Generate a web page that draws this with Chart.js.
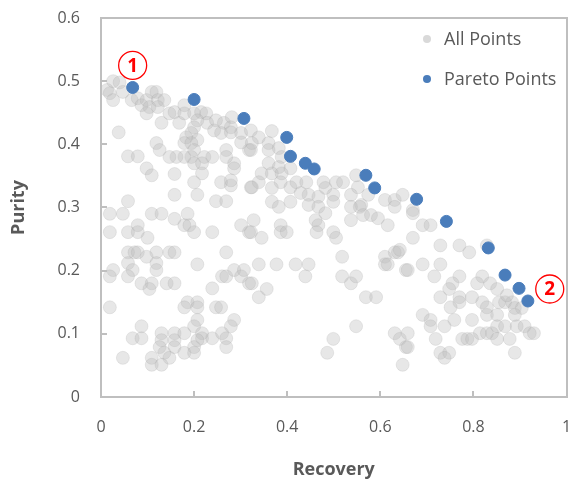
<!DOCTYPE html>
<html>
<head>
<meta charset="utf-8">
<script src="https://cdn.jsdelivr.net/npm/chart.js@4/dist/chart.umd.min.js"></script>
<style>
  html, body { margin: 0; padding: 0; background: #fff; }
</style>
</head>
<body>
<canvas id="chartPareto" width="574" height="482"></canvas>
<script>
// ---- Data ----
const paretoRecovery = [0.068, 0.2, 0.307, 0.399, 0.407, 0.439, 0.458, 0.569, 0.588, 0.678, 0.742, 0.832, 0.868, 0.898, 0.917];
const paretoPurity   = [0.49, 0.471, 0.441, 0.411, 0.381, 0.37, 0.361, 0.351, 0.331, 0.313, 0.278, 0.236, 0.193, 0.172, 0.152];

// [recovery, purity]
const allPoints = [
  [0.026,0.50],[0.013,0.486],[0.019,0.481],[0.04,0.498],[0.047,0.483],[0.026,0.47],[0.066,0.47],[0.079,0.473],
  [0.087,0.462],[0.098,0.47],[0.109,0.483],[0.119,0.483],[0.104,0.459],[0.122,0.47],[0.136,0.47],[0.098,0.449],
  [0.122,0.459],[0.13,0.434],[0.147,0.449],[0.158,0.451],[0.168,0.434],[0.179,0.462],[0.179,0.449],[0.2,0.449],
  [0.215,0.451],[0.226,0.449],[0.207,0.438],[0.228,0.434],[0.247,0.438],[0.243,0.422],[0.264,0.434],[0.258,0.418],
  [0.281,0.443],[0.279,0.427],[0.279,0.419],[0.301,0.418],[0.318,0.391],[0.301,0.403],[0.2,0.427],[0.194,0.418],
  [0.207,0.407],[0.183,0.411],[0.179,0.402],[0.194,0.402],[0.2,0.391],[0.194,0.38],[0.179,0.38],[0.162,0.38],
  [0.147,0.38],[0.222,0.38],[0.239,0.38],[0.2,0.37],[0.217,0.37],[0.269,0.391],[0.286,0.37],[0.286,0.362],
  [0.269,0.38],[0.119,0.402],[0.126,0.391],[0.038,0.419],[0.058,0.381],[0.079,0.381],[0.098,0.362],[0.109,0.351],
  [0.158,0.353],[0.217,0.354],[0.2,0.34],[0.258,0.34],[0.279,0.335],[0.279,0.343],[0.322,0.332],[0.158,0.32],
  [0.207,0.32],[0.058,0.31],[0.247,0.31],[0.269,0.31],
  [0.322,0.422],[0.339,0.411],[0.367,0.421],[0.324,0.402],[0.322,0.391],[0.36,0.402],[0.36,0.391],[0.382,0.394],
  [0.388,0.38],[0.36,0.37],[0.382,0.364],[0.407,0.362],[0.345,0.354],[0.367,0.354],[0.388,0.354],[0.386,0.34],
  [0.339,0.34],[0.324,0.332],[0.367,0.331],[0.407,0.332],[0.42,0.34],[0.441,0.34],[0.478,0.34],[0.505,0.34],
  [0.52,0.34],[0.482,0.331],[0.429,0.323],[0.446,0.32],[0.467,0.317],[0.499,0.32],[0.548,0.351],[0.552,0.332],
  [0.537,0.32],[0.574,0.32],[0.61,0.312],[0.631,0.312],[0.648,0.32],[0.367,0.309],[0.382,0.301],[0.407,0.309],
  [0.446,0.304],[0.467,0.301],[0.499,0.309],[0.559,0.304],[0.67,0.296],
  [0.019,0.29],[0.047,0.29],[0.109,0.29],[0.13,0.29],[0.158,0.282],[0.186,0.29],[0.179,0.272],[0.19,0.272],
  [0.079,0.272],[0.019,0.261],[0.058,0.261],[0.079,0.261],[0.1,0.252],[0.2,0.261],[0.239,0.261],[0.301,0.272],
  [0.318,0.261],[0.058,0.229],[0.072,0.229],[0.079,0.229],[0.119,0.229],[0.147,0.229],[0.158,0.229],[0.269,0.229],
  [0.098,0.222],[0.058,0.212],[0.119,0.212],[0.119,0.201],[0.068,0.201],[0.026,0.201],[0.019,0.191],[0.058,0.191],
  [0.207,0.21],[0.087,0.18],[0.109,0.18],[0.104,0.171],[0.141,0.18],[0.158,0.18],[0.239,0.172],[0.26,0.191],
  [0.269,0.191],[0.286,0.201],[0.301,0.191],[0.307,0.201],[0.318,0.18],[0.019,0.142],[0.186,0.15],[0.207,0.15],
  [0.179,0.142],[0.207,0.142],[0.247,0.142],[0.258,0.142],[0.207,0.122],[0.2,0.112],[0.286,0.122],[0.279,0.112],
  [0.087,0.112],[0.068,0.093],[0.087,0.093],[0.13,0.101],[0.13,0.09],[0.158,0.101],[0.158,0.09],[0.179,0.101],
  [0.217,0.101],[0.217,0.093],[0.239,0.093],[0.26,0.101],[0.269,0.093],[0.269,0.079],[0.126,0.079],[0.158,0.079],
  [0.2,0.079],[0.136,0.07],[0.179,0.07],[0.2,0.07],[0.147,0.062],[0.047,0.062],[0.109,0.062],[0.109,0.051],
  [0.13,0.051],[0.207,0.09],
  [0.461,0.28],[0.467,0.272],[0.463,0.261],[0.482,0.291],[0.537,0.28],[0.537,0.301],[0.556,0.301],[0.563,0.288],
  [0.58,0.288],[0.595,0.283],[0.616,0.272],[0.631,0.301],[0.328,0.28],[0.322,0.261],[0.345,0.252],[0.386,0.272],
  [0.386,0.261],[0.399,0.261],[0.499,0.261],[0.505,0.252],[0.339,0.21],[0.377,0.21],[0.418,0.21],[0.446,0.21],
  [0.439,0.191],[0.324,0.18],[0.356,0.171],[0.339,0.158],[0.518,0.222],[0.518,0.191],[0.537,0.18],[0.548,0.191],
  [0.569,0.158],[0.591,0.158],[0.61,0.222],[0.61,0.21],[0.616,0.21],[0.631,0.229],[0.638,0.229],[0.655,0.201],
  [0.548,0.112],[0.499,0.092],[0.486,0.07],[0.631,0.101],[0.642,0.092],[0.655,0.079],[0.648,0.051],
  [0.67,0.291],[0.691,0.272],[0.708,0.272],[0.642,0.233],[0.67,0.252],[0.729,0.24],[0.77,0.24],[0.791,0.229],
  [0.829,0.24],[0.659,0.201],[0.691,0.21],[0.729,0.21],[0.716,0.191],[0.77,0.191],[0.755,0.18],[0.748,0.171],
  [0.819,0.191],[0.808,0.18],[0.836,0.18],[0.851,0.171],[0.729,0.158],[0.77,0.158],[0.77,0.15],[0.797,0.158],
  [0.819,0.15],[0.751,0.142],[0.829,0.142],[0.855,0.15],[0.868,0.15],[0.883,0.15],[0.872,0.161],[0.889,0.141],
  [0.904,0.141],[0.829,0.13],[0.851,0.13],[0.889,0.13],[0.691,0.13],[0.708,0.122],[0.708,0.112],[0.738,0.112],
  [0.759,0.122],[0.797,0.122],[0.851,0.112],[0.868,0.112],[0.893,0.112],[0.91,0.112],[0.814,0.101],[0.829,0.101],
  [0.84,0.101],[0.921,0.101],[0.93,0.101],[0.659,0.101],[0.776,0.092],[0.787,0.092],[0.797,0.092],[0.851,0.092],
  [0.878,0.092],[0.719,0.092],[0.659,0.079],[0.729,0.07],[0.748,0.07],[0.738,0.062],[0.889,0.07]
];

const seriesLabels = ['All Points', 'Pareto Points'];
// numbered callouts: [recovery, purity, text]
const callouts = [[0.068, 0.525, '1'], [0.964, 0.171, '2']];

const TEXT_GREY  = '#595959';
const FRAME_GREY = '#bfbfbf';
const BLUE       = '#4a7dbb';

// ---- Overlay: plot box, inward ticks, legend, numbered callouts ----
const overlay = {
  id: 'overlay',
  afterDraw(chart) {
    const ctx = chart.ctx;
    const a = chart.chartArea;
    const x = chart.scales.x, y = chart.scales.y;
    const L = Math.round(a.left), R = Math.round(a.right);
    const T = Math.round(a.top), B = Math.round(a.bottom);
    ctx.save();

    // plot-area box with Excel-style inward tick marks
    ctx.fillStyle = FRAME_GREY;
    ctx.fillRect(L - 1, T - 1, R - L + 2, 2);
    ctx.fillRect(L - 1, B - 1, R - L + 2, 2);
    ctx.fillRect(L - 1, T - 1, 2, B - T + 2);
    ctx.fillRect(R - 1, T - 1, 2, B - T + 2);
    for (let i = 1; i < 5; i++) {
      const px = Math.round(x.getPixelForValue(i * 0.2));
      ctx.fillRect(px - 1, B - 6, 2, 6);
    }
    for (let i = 1; i < 6; i++) {
      const py = Math.round(y.getPixelForValue(i * 0.1));
      ctx.fillRect(L, py - 1, 6, 2);
    }

    // legend
    const colors = ['#d9d9d9', BLUE];
    ctx.font = '18px "Open Sans", sans-serif';
    ctx.textBaseline = 'middle';
    ctx.textAlign = 'left';
    seriesLabels.forEach((label, i) => {
      const yy = T + 21 + i * 40;
      ctx.beginPath();
      ctx.fillStyle = colors[i];
      ctx.arc(R - 140, yy, 4, 0, Math.PI * 2);
      ctx.fill();
      ctx.fillStyle = TEXT_GREY;
      ctx.fillText(label, R - 123, yy + 1);
    });

    // circled numbers
    callouts.forEach(([cx, cy, txt]) => {
      const px = x.getPixelForValue(cx);
      const py = y.getPixelForValue(cy);
      ctx.beginPath();
      ctx.arc(px, py, 14, 0, Math.PI * 2);
      ctx.fillStyle = '#fff';
      ctx.fill();
      ctx.strokeStyle = '#ff0000';
      ctx.lineWidth = 1.3;
      ctx.stroke();
      ctx.fillStyle = '#ff0000';
      ctx.font = 'bold 19px "Open Sans", sans-serif';
      ctx.textAlign = 'center';
      ctx.fillText(txt, px, py + 1);
    });
    ctx.restore();
  }
};

const tickText = v => String(Math.round(v * 10) / 10);

// ---- Chart ----
new Chart(document.getElementById('chartPareto'), {
  type: 'scatter',
  data: {
    datasets: [
      {
        label: seriesLabels[0],
        data: allPoints.map(p => ({ x: p[0], y: p[1] })),
        backgroundColor: 'rgba(185,185,185,0.35)',
        borderColor: 'rgba(160,160,160,0.2)',
        borderWidth: 1,
        pointRadius: 6.5,
        order: 2,
      },
      {
        label: seriesLabels[1],
        data: paretoRecovery.map((r, i) => ({ x: r, y: paretoPurity[i] })),
        backgroundColor: BLUE,
        borderColor: BLUE,
        borderWidth: 1,
        pointRadius: 6,
        order: 1,
      }
    ]
  },
  options: {
    responsive: false,
    animation: false,
    layout: { padding: { top: 18, right: 4, left: 0, bottom: 0 } },
    plugins: {
      legend: { display: false },
      tooltip: { enabled: false }
    },
    scales: {
      x: {
        min: 0, max: 1,
        afterFit: s => { s.height = 85; s.paddingLeft = 0; s.paddingRight = 0; },
        grid: { display: false, drawTicks: false },
        border: { display: false },
        ticks: { stepSize: 0.2, padding: 21, color: TEXT_GREY, callback: tickText,
                 font: { family: 'Open Sans', size: 16 } },
        title: { display: true, text: 'Recovery', color: TEXT_GREY, padding: { top: 0, bottom: 1 },
                 font: { family: 'Open Sans', size: 18, weight: 'bold' } }
      },
      y: {
        min: 0, max: 0.6,
        afterFit: s => { s.width = 101; s.paddingTop = 0; s.paddingBottom = 0; },
        grid: { display: false, drawTicks: false },
        border: { display: false },
        ticks: { stepSize: 0.1, padding: 21, color: TEXT_GREY, callback: tickText,
                 font: { family: 'Open Sans', size: 16 } },
        title: { display: true, text: 'Purity', color: TEXT_GREY, padding: { top: 8, bottom: 0 },
                 font: { family: 'Open Sans', size: 18, weight: 'bold' } }
      }
    }
  },
  plugins: [overlay]
});
</script>
</body>
</html>
